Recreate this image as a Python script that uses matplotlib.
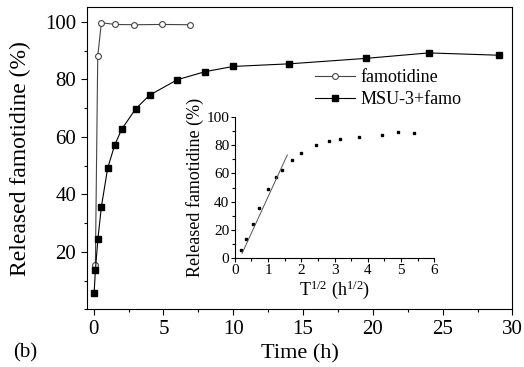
import matplotlib
matplotlib.use("Agg")
import matplotlib.pyplot as plt
import numpy as np
from matplotlib.ticker import MultipleLocator

plt.rcParams['font.family'] = ['Liberation Serif', 'DejaVu Serif']
plt.rcParams['mathtext.fontset'] = 'custom'
plt.rcParams['mathtext.rm'] = 'Liberation Serif'
plt.rcParams['mathtext.it'] = 'Liberation Serif:italic'

# Data
famo_t = [0.12, 0.29, 0.55, 1.55, 2.9, 4.9, 6.9]
famo_y = [15.5, 88.1, 99.7, 99.1, 99.0, 99.1, 99.0]
msu_t = [0.03, 0.12, 0.3, 0.55, 1, 1.5, 2, 3, 4, 6, 8, 10, 14, 19.5, 24, 29]
msu_y = [5.6, 13.6, 24.4, 35.7, 49.1, 57.1, 62.6, 69.7, 74.5, 79.9, 82.7, 84.5, 85.4, 87.3, 89.2, 88.4]
fit_slope = 51.1
fit_intercept = -7.7
fit_range = [0.22, 1.58]

main_xticks = [0, 5, 10, 15, 20, 25, 30]
main_yticks = [20, 40, 60, 80, 100]
inset_xticks = [0, 1, 2, 3, 4, 5, 6]
inset_yticks = [0, 20, 40, 60, 80, 100]

fig = plt.figure(figsize=(5.24, 3.67), dpi=100)
ax = fig.add_axes([0.1655, 0.157, 0.8125, 0.8226])

ax.plot(famo_t, famo_y, color='#444444', lw=0.8, marker='o', ms=4.2,
        mfc='white', mec='#444444', mew=0.8, label='famotidine')
ax.plot(msu_t, msu_y, color='black', lw=0.8, marker='s', ms=4.2,
        mfc='black', mec='black', label='MSU-3+famo')

ax.set_xlim(-0.5, 30)
ax.set_ylim(0, 105)
ax.set_xticks(main_xticks)
ax.set_yticks(main_yticks)
ax.xaxis.set_minor_locator(MultipleLocator(2.5))
ax.yaxis.set_minor_locator(MultipleLocator(10))
ax.tick_params(which='both', direction='out', labelsize=15, top=False, right=False)
ax.tick_params(which='major', length=4, width=0.8)
ax.tick_params(which='minor', length=2.5, width=0.8)
for s in ax.spines.values():
    s.set_linewidth(0.8)
ax.set_xlabel('Time (h)', fontsize=16, labelpad=4)
ax.set_ylabel('Released famotidine (%)', fontsize=17, labelpad=3)
ax.yaxis.set_label_coords(-0.13, 0.5)

ax.legend(loc='upper left', bbox_to_anchor=(0.52, 0.82), frameon=False,
          fontsize=13, handlelength=2.2, handletextpad=0.3, labelspacing=0.3,
          borderaxespad=0)

fig.text(0.025, 0.025, '(b)', fontsize=15)

# Inset
ins = fig.add_axes([0.448, 0.296, 0.381, 0.386])
st = np.sqrt(np.array(msu_t))
ins.plot(st, msu_y, linestyle='none', marker='s', ms=2, color='black')
fx = np.array(fit_range)
ins.plot(fx, fit_slope * fx + fit_intercept, color='#555555', lw=0.7)
ins.set_xlim(0, 6)
ins.set_ylim(0, 100)
ins.set_xticks(inset_xticks)
ins.set_yticks(inset_yticks)
ins.xaxis.set_minor_locator(MultipleLocator(0.5))
ins.yaxis.set_minor_locator(MultipleLocator(10))
ins.spines['top'].set_visible(False)
ins.spines['right'].set_visible(False)
for s in ['left', 'bottom']:
    ins.spines[s].set_linewidth(0.8)
ins.patch.set_alpha(0)
ins.tick_params(which='both', direction='out', labelsize=11, pad=1)
ins.tick_params(which='major', length=3, width=0.8)
ins.tick_params(which='minor', length=2, width=0.8)
ins.set_xlabel(r'T$^{\rm 1/2}$ (h$^{\rm 1/2}$)', fontsize=13, labelpad=1)
ins.set_ylabel('Released famotidine (%)', fontsize=13, labelpad=2)

fig.savefig('out.png', dpi=100)
